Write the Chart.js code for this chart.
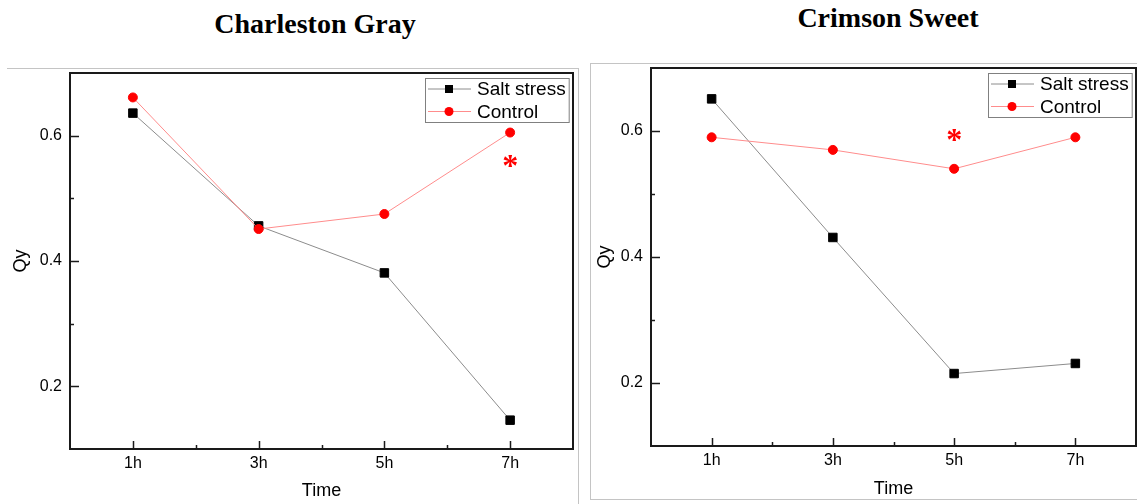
<!DOCTYPE html>
<html>
<head>
<meta charset="utf-8">
<script src="https://cdn.jsdelivr.net/npm/chart.js@4.4.0/dist/chart.umd.min.js"></script>
<style>
  html, body { margin: 0; padding: 0; background: #fff; }
  #wrap { position: relative; width: 1137px; height: 504px; overflow: hidden; }
  .panel { position: absolute; border: 0 solid #c4c4c4; }
  .title { position: absolute; font: bold 28px "Liberation Serif", "Times New Roman", serif; line-height: 28px; white-space: nowrap; transform: translateX(-50%); color: #000; }
  .holder { position: absolute; top: 0; }
  canvas { display: block; }
</style>
</head>
<body>
<div id="wrap">
  <div class="panel" style="left:7px;top:68px;width:571px;height:440px;border-top-width:1px;border-right-width:1px;"></div>
  <div class="panel" style="left:590px;top:63px;width:560px;height:435px;border-width:1px;"></div>
  <div class="title" id="t1" style="left:315px;top:10px;"></div>
  <div class="title" id="t2" style="left:888px;top:4px;"></div>
  <div class="holder" style="left:0;"><canvas id="c1" width="580" height="504"></canvas></div>
  <div class="holder" style="left:583px;"><canvas id="c2" width="560" height="504"></canvas></div>
</div>
<script>
// data
const timeLabels = ['1h', '3h', '5h', '7h'];
const timeHours = [1, 3, 5, 7];
const xTicks = [1, 2, 3, 4, 5, 6, 7];
const yTicks = [0.2, 0.3, 0.4, 0.5, 0.6];
const seriesNames = ['Salt stress', 'Control'];

const grayTitle = 'Charleston Gray';
const graySalt = [0.636, 0.456, 0.381, 0.146];
const grayControl = [0.661, 0.451, 0.475, 0.605];
const grayStar = [7, 0.56];

const sweetTitle = 'Crimson Sweet';
const sweetSalt = [0.651, 0.431, 0.215, 0.231];
const sweetControl = [0.59, 0.57, 0.54, 0.59];
const sweetStar = [5, 0.593];

document.getElementById('t1').textContent = grayTitle;
document.getElementById('t2').textContent = sweetTitle;

const SANS = '"Liberation Sans", Arial, sans-serif';
Chart.defaults.color = '#000';

function points(vals) {
  return vals.map((v, i) => ({ x: timeHours[i], y: v }));
}

// frame, inward ticks, legend and the asterisk
const decorPlugin = {
  id: 'decor',
  afterDatasetsDraw(chart, args, opts) {
    const { ctx, chartArea: a, scales } = chart;
    ctx.save();
    // asterisk
    ctx.font = 'bold 32px "Liberation Serif", "Times New Roman", serif';
    ctx.fillStyle = '#ff0000';
    ctx.textAlign = 'center';
    ctx.textBaseline = 'alphabetic';
    const m = ctx.measureText('*');
    const sx = scales.x.getPixelForValue(opts.star[0]);
    const sy = scales.y.getPixelForValue(opts.star[1]);
    ctx.fillText('*', sx, sy + (m.actualBoundingBoxAscent - m.actualBoundingBoxDescent) / 2);

    // frame
    ctx.strokeStyle = '#1a1a1a';
    ctx.lineWidth = 2;
    ctx.strokeRect(a.left, a.top, a.right - a.left, a.bottom - a.top);
    ctx.lineWidth = 1.5;
    scales.x.ticks.forEach(t => {
      const p = Math.round(scales.x.getPixelForValue(t.value)) + 0.5;
      const len = t.label ? 8 : 4;
      ctx.beginPath();
      ctx.moveTo(p, a.bottom);
      ctx.lineTo(p, a.bottom - len);
      ctx.stroke();
    });
    scales.y.ticks.forEach(t => {
      const p = Math.round(scales.y.getPixelForValue(t.value)) + 0.5;
      const len = t.label ? 9 : 4;
      ctx.beginPath();
      ctx.moveTo(a.left, p);
      ctx.lineTo(a.left + len, p);
      ctx.stroke();
    });

    // legend
    ctx.font = '19px ' + SANS;
    const sets = chart.data.datasets;
    const tw = Math.max(...sets.map(d => ctx.measureText(d.label).width));
    const w = 52 + tw + 3, h = 44;
    const x0 = Math.round(a.right - 4 - w), y0 = Math.round(a.top + 5);
    ctx.strokeStyle = '#808080';
    ctx.lineWidth = 1;
    ctx.strokeRect(x0 + 0.5, y0 + 0.5, w, h);
    sets.forEach((d, i) => {
      const cy = y0 + 11 + i * 22.5;
      ctx.strokeStyle = d.borderColor;
      ctx.beginPath();
      ctx.moveTo(x0 + 3, cy);
      ctx.lineTo(x0 + 46, cy);
      ctx.stroke();
      ctx.fillStyle = d.pointBackgroundColor;
      ctx.beginPath();
      if (d.pointStyle === 'rect') {
        ctx.rect(x0 + 24 - 4, cy - 4, 8, 8);
      } else {
        ctx.arc(x0 + 24, cy, 4.5, 0, Math.PI * 2);
      }
      ctx.fill();
      ctx.fillStyle = '#000';
      ctx.textAlign = 'left';
      ctx.textBaseline = 'middle';
      ctx.fillText(d.label, x0 + 52, cy + 1);
    });
    ctx.restore();
  }
};

function makeChart(id, salt, control, star, g) {
  new Chart(document.getElementById(id), {
    type: 'line',
    data: {
      datasets: [
        {
          label: seriesNames[0],
          data: points(salt),
          borderColor: '#8c8c8c',
          borderWidth: 1,
          pointStyle: 'rect',
          pointRadius: 6,
          pointBackgroundColor: '#000',
          pointBorderColor: '#000',
          pointBorderWidth: 1,
          order: 1
        },
        {
          label: seriesNames[1],
          data: points(control),
          borderColor: '#ff8c8c',
          borderWidth: 1,
          pointStyle: 'circle',
          pointRadius: 4.5,
          pointBackgroundColor: '#ff0000',
          pointBorderColor: '#ff0000',
          pointBorderWidth: 1,
          order: 0
        }
      ]
    },
    options: {
      responsive: false,
      animation: false,
      layout: { padding: { top: g.top, right: g.right, left: 0, bottom: 0 } },
      plugins: {
        legend: { display: false },
        tooltip: { enabled: false },
        decor: { star: star }
      },
      scales: {
        x: {
          type: 'linear',
          min: 0,
          max: 8,
          afterBuildTicks: s => { s.ticks = xTicks.map(v => ({ value: v })); },
          afterFit: s => { s.height = g.xHeight; s.paddingLeft = 0; s.paddingRight = 0; },
          grid: { display: false, drawTicks: false },
          border: { display: false },
          ticks: {
            autoSkip: false,
            maxRotation: 0,
            padding: 5,
            font: { family: SANS, size: 16 },
            callback: v => {
              const i = timeHours.indexOf(v);
              return i >= 0 ? timeLabels[i] : '';
            }
          },
          title: { display: true, text: 'Time', font: { family: SANS, size: 18 }, padding: { top: 0, bottom: g.xTitlePad } }
        },
        y: {
          min: 0.1,
          max: 0.7,
          afterBuildTicks: s => { s.ticks = yTicks.map(v => ({ value: v })); },
          afterFit: s => { s.width = g.yWidth; s.paddingTop = 0; s.paddingBottom = 0; },
          grid: { display: false, drawTicks: false },
          border: { display: false },
          ticks: {
            autoSkip: false,
            padding: 8,
            font: { family: SANS, size: 16 },
            callback: v => (Math.round(v * 10) % 2 === 0 ? v.toFixed(1) : '')
          },
          title: { display: true, text: 'Qy', font: { family: SANS, size: 18 }, padding: { top: g.yTitlePad, bottom: 0 } }
        }
      }
    },
    plugins: [decorPlugin]
  });
}

makeChart('c1', graySalt, grayControl, grayStar, { top: 73, right: 6, xHeight: 55, yWidth: 70, xTitlePad: 2, yTitlePad: 10 });
makeChart('c2', sweetSalt, sweetControl, sweetStar, { top: 68, right: 7, xHeight: 58, yWidth: 68, xTitlePad: 4, yTitlePad: 11 });
</script>
</body>
</html>
